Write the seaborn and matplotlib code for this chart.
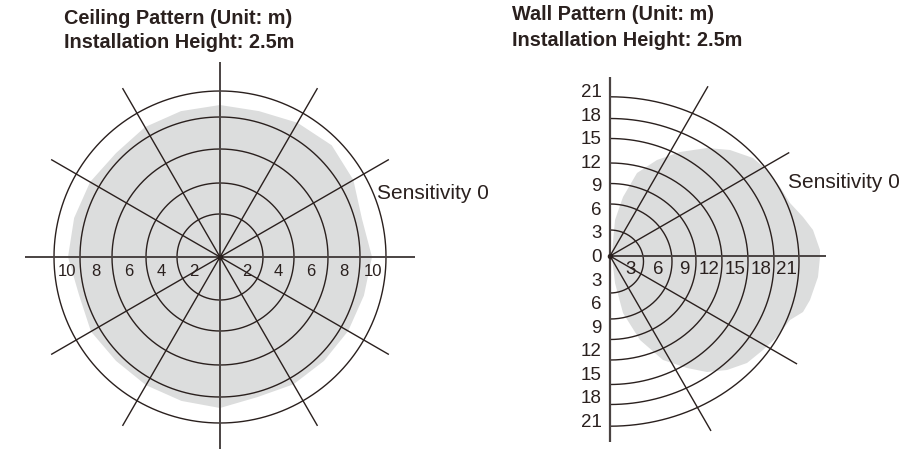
import numpy as np
import pandas as pd
import matplotlib
matplotlib.use("Agg")
import matplotlib.pyplot as plt
import seaborn as sns

# ---------------- data ----------------
ceiling_title = ["Ceiling Pattern (Unit: m)", "Installation Height: 2.5m"]
wall_title = ["Wall Pattern (Unit: m)", "Installation Height: 2.5m"]
sensitivity_label = "Sensitivity 0"

ceiling_rings = [2, 4, 6, 8, 10]
ceiling_ring_radius = [43, 74, 108, 140, 166]
ceiling_spoke_angles = [0, 30, 60, 90, 120, 150, 180, 210, 240, 270, 300, 330]
ceiling_blob_angles = [0, 15, 30, 45, 60, 75, 90, 105, 120, 135, 150, 165,
                       180, 195, 210, 225, 240, 255, 270, 285, 300, 315, 330, 345]
ceiling_blob_radius = [152, 147, 154, 158, 155, 151, 152, 151, 150, 147, 150, 151,
                       152, 146, 149, 147, 148, 149, 151, 145, 147, 147, 148, 149]

wall_rings = [3, 6, 9, 12, 15, 18, 21]
wall_arc_rx = [33.5, 62, 86, 112, 138, 164, 189]
wall_arc_ry = [31.5, 57.5, 78, 98.5, 123, 143, 164.7]
wall_spoke_angles = [60, 30, -30, -60]
wall_spoke_len = [196, 207, 216, 202]
wall_y_ticks = [21, 18, 15, 12, 9, 6, 3, 0, -3, -6, -9, -12, -15, -18, -21]
wall_blob_x = [2, 5, 13, 27, 47, 70, 97, 120, 143, 157, 170, 180, 193, 203, 210,
               210, 208, 200, 193, 180, 167, 153, 137, 117, 97, 77, 53, 30, 13, 5, 2]
wall_blob_y = [3, 36, 59, 83, 96, 104, 108, 106, 98, 86, 69, 53, 39, 26, 6,
               -1, -21, -44, -56, -64, -81, -94, -107, -114, -116, -112, -104, -84, -57, -27, -1]

# ---------------- style ----------------
sns.set_theme(style="white")
plt.rcParams["font.family"] = ["Liberation Sans", "DejaVu Sans"]
INK = "#2a201e"
AXIS_INK = "#4a4342"
FILL = "#dcdddd"

fig = plt.figure(figsize=(9.14, 4.49), dpi=100)
fig.patch.set_facecolor("white")

theta = np.linspace(0, 2 * np.pi, 361)

# ================= Ceiling =================
axc = fig.add_axes([0, 0, 440 / 914, 1])
axc.set_xlim(-220, 220)
axc.set_ylim(-192, 257)
axc.axis("off")

ba = np.deg2rad(ceiling_blob_angles)
br = np.array(ceiling_blob_radius, dtype=float)
axc.fill(br * np.cos(ba), br * np.sin(ba), color=FILL, lw=0, zorder=1)

ring_rows = []
for lab, r in zip(ceiling_rings, ceiling_ring_radius):
    ring_rows.append(pd.DataFrame({"x": r * np.cos(theta), "y": r * np.sin(theta),
                                   "ring": lab}))
ring_df = pd.concat(ring_rows, ignore_index=True)
sns.lineplot(data=ring_df, x="x", y="y", units="ring", estimator=None, sort=False,
             color=INK, lw=1.0, ax=axc, zorder=3)

spoke_len_c = 195
for a in ceiling_spoke_angles:
    t = np.deg2rad(a)
    if a % 90 == 0:
        axc.plot([0, spoke_len_c * np.cos(t)], [0, spoke_len_c * np.sin(t)],
                 color=AXIS_INK, lw=1.4, zorder=4, solid_capstyle="butt")
    else:
        axc.plot([0, spoke_len_c * np.cos(t)], [0, spoke_len_c * np.sin(t)],
                 color=INK, lw=1.0, zorder=4, solid_capstyle="butt")
axc.plot([0], [0], "o", color=INK, ms=3, zorder=5)

for i, (lab, r) in enumerate(zip(ceiling_rings, ceiling_ring_radius)):
    pos = 0.62 * r if i == 0 else (ceiling_ring_radius[i - 1] + r) / 2
    for s in (-1, 1):
        axc.text(s * pos, -15, str(lab), ha="center", va="center",
                 fontsize=12, color=INK, zorder=6)

axc.text(-156, 239, ceiling_title[0], ha="left", va="center", fontsize=14.3,
         fontweight="bold", color=INK)
axc.text(-156, 214, ceiling_title[1], ha="left", va="center", fontsize=14.3,
         fontweight="bold", color=INK)
axc.text(157, 64, sensitivity_label, ha="left", va="center", fontsize=15, color=INK)

# ================= Wall =================
axw = fig.add_axes([457 / 914, 0, 457 / 914, 1])
axw.set_xlim(-153, 304)
axw.set_ylim(-193, 256)
axw.axis("off")

axw.fill(wall_blob_x, wall_blob_y, color=FILL, lw=0, zorder=1)

half = np.linspace(-np.pi / 2, np.pi / 2, 181)
arc_rows = []
for lab, rx, ry in zip(wall_rings, wall_arc_rx, wall_arc_ry):
    arc_rows.append(pd.DataFrame({"x": rx * np.cos(half),
                                  "y": -5.5 + ry * np.sin(half), "ring": lab}))
arc_df = pd.concat(arc_rows, ignore_index=True)
sns.lineplot(data=arc_df, x="x", y="y", units="ring", estimator=None, sort=False,
             color=INK, lw=1.0, ax=axw, zorder=3)

for a, L in zip(wall_spoke_angles, wall_spoke_len):
    t = np.deg2rad(a)
    axw.plot([0, L * np.cos(t)], [0, L * np.sin(t)], color=INK, lw=1.0, zorder=4,
             solid_capstyle="butt")
axw.plot([0, 216], [0, 0], color=AXIS_INK, lw=1.4, zorder=4, solid_capstyle="butt")
axw.plot([0, 0], [179, -186], color=AXIS_INK, lw=1.6, zorder=4, solid_capstyle="butt")
axw.plot([0], [0], "o", color=INK, ms=3, zorder=5)

for i, (lab, rx) in enumerate(zip(wall_rings, wall_arc_rx)):
    pos = 0.62 * rx if i == 0 else (wall_arc_rx[i - 1] + rx) / 2
    axw.text(pos, -13, str(lab), ha="center", va="center", fontsize=13.5,
             color=INK, zorder=6)

for v in wall_y_ticks:
    axw.text(-8, v * 7.85 - 1.5, str(abs(v)), ha="right", va="center",
             fontsize=13.5, color=INK)

axw.text(-98, 241, wall_title[0], ha="left", va="center", fontsize=14.3,
         fontweight="bold", color=INK)
axw.text(-98, 216, wall_title[1], ha="left", va="center", fontsize=14.3,
         fontweight="bold", color=INK)
axw.text(178, 74, sensitivity_label, ha="left", va="center", fontsize=15, color=INK)

fig.savefig("out.png", dpi=100, facecolor="white")
